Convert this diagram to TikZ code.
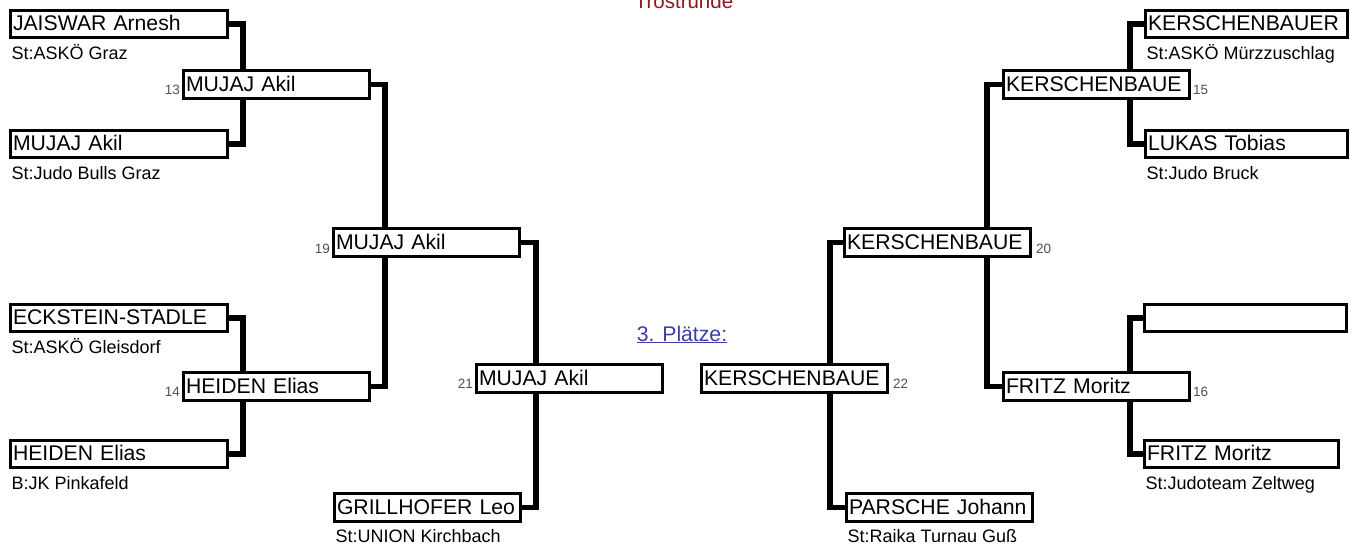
\documentclass[tikz,border=0pt]{standalone}
\usepackage{fontspec}
\setmainfont{Liberation Sans}
\usetikzlibrary{calc}
\definecolor{trostred}{HTML}{8B1A1A}
\definecolor{linkblue}{HTML}{3C3CAA}
\definecolor{numgray}{HTML}{505050}

\begin{document}
\begin{tikzpicture}[x=1pt, y=-1pt,
  namebox/.style={draw, line width=3pt, fill=white, anchor=north west, inner xsep=2.5pt, inner ysep=0pt,
    align=left, text height=15.5pt, text depth=2pt, font=\fontsize{21.2}{24}\selectfont},
  outerbox/.style={namebox, text width=212pt, minimum height=27pt},
  matchbox/.style={namebox, text width=181pt, minimum height=28pt},
  club/.style={anchor=base west, inner sep=0pt, font=\fontsize{18}{20}\selectfont},
  nr/.style={inner sep=0pt, text=numgray, font=\fontsize{13.5}{16}\selectfont},
  conn/.style={line width=5.5pt, black}
]
  \useasboundingbox (0,0) rectangle (1357,544);

  % title and link
  \node[anchor=base, inner sep=0pt, text=trostred, font=\fontsize{20.5}{24}\selectfont] (title) at (684,8) {Trostrunde};
  \node[anchor=base, inner sep=0pt, text=linkblue, font=\fontsize{21.2}{24}\selectfont] (plaetze) at (682,341) {\underline{3. Plätze:}};

  % columns of the connectors
  \coordinate (colA) at (243,0);
  \coordinate (colB) at (385,0);
  \coordinate (colC) at (536,0);
  \coordinate (colD) at (830,0);
  \coordinate (colE) at (987,0);
  \coordinate (colF) at (1130,0);

  % left half
  \node[outerbox] (jaiswar) at (9,9) {JAISWAR Arnesh};
  \node[outerbox] (mujaj) at (9,129) {MUJAJ Akil};
  \node[outerbox] (eckstein) at (9,303) {ECKSTEIN-STADLE};
  \node[outerbox] (heiden) at (9,439) {HEIDEN Elias};
  \node[matchbox] (m13) at (182,69) {MUJAJ Akil};
  \node[matchbox] (m14) at (182,371) {HEIDEN Elias};
  \node[matchbox] (m19) at (332,227) {MUJAJ Akil};
  \node[matchbox] (m21) at (475,363) {MUJAJ Akil};
  \node[matchbox] (grillhofer) at (333,492) {GRILLHOFER Leo};

  % right half
  \node[matchbox] (m22) at (700,363) {KERSCHENBAUE};
  \node[matchbox] (parsche) at (845,492) {PARSCHE Johann};
  \node[matchbox] (m20) at (843,227) {KERSCHENBAUE};
  \node[matchbox] (m15) at (1002,69) {KERSCHENBAUE};
  \node[matchbox] (m16) at (1002,371) {FRITZ Moritz};
  \node[outerbox, text width=197pt] (kerschenbauer) at (1144,9) {KERSCHENBAUER};
  \node[outerbox, text width=197pt] (lukas) at (1144,129) {LUKAS Tobias};
  \node[outerbox, text width=197pt] (leer) at (1143,303) {};
  \node[outerbox, text width=189pt] (fritz) at (1143,439) {FRITZ Moritz};

  % clubs
  \node[club] (cjaiswar) at (11.5,59) {St:ASKÖ Graz};
  \node[club] (cmujaj) at (11.5,179) {St:Judo Bulls Graz};
  \node[club] (ceckstein) at (11.5,353) {St:ASKÖ Gleisdorf};
  \node[club] (cheiden) at (11.5,489) {B:JK Pinkafeld};
  \node[club] (cgrillhofer) at (335.5,542) {St:UNION Kirchbach};
  \node[club] (cparsche) at (847.5,542) {St:Raika Turnau Guß};
  \node[club] (ckerschenbauer) at (1146.5,59) {St:ASKÖ Mürzzuschlag};
  \node[club] (clukas) at (1146.5,179) {St:Judo Bruck};
  \node[club] (cfritz) at (1145.5,489) {St:Judoteam Zeltweg};

  % fight numbers
  \node[nr, anchor=base east] (n13) at (180,94) {13};
  \node[nr, anchor=base east] (n14) at (180,396) {14};
  \node[nr, anchor=base east] (n19) at (330,253) {19};
  \node[nr, anchor=base east] (n21) at (473,388) {21};
  \node[nr, anchor=base west] (n22) at (893,388) {22};
  \node[nr, anchor=base west] (n20) at (1036,253) {20};
  \node[nr, anchor=base west] (n15) at (1193,94) {15};
  \node[nr, anchor=base west] (n16) at (1193,396) {16};

  % connectors
  \draw[conn] (jaiswar.east) -| (colA |- m13.north);
  \draw[conn] (m13.south -| colA) |- (mujaj.east);
  \draw[conn] (eckstein.east) -| (colA |- m14.north);
  \draw[conn] (m14.south -| colA) |- (heiden.east);
  \draw[conn] (m13.east) -| (colB |- m19.north);
  \draw[conn] (m19.south -| colB) |- (m14.east);
  \draw[conn] (m19.east) -| (colC |- m21.north);
  \draw[conn] (m21.south -| colC) |- (grillhofer.east);

  \draw[conn] (m20.west) -| (colD |- m22.north);
  \draw[conn] (m22.south -| colD) |- (parsche.west);
  \draw[conn] (m15.west) -| (colE |- m20.north);
  \draw[conn] (m20.south -| colE) |- (m16.west);
  \draw[conn] (kerschenbauer.west) -| (colF |- m15.north);
  \draw[conn] (m15.south -| colF) |- (lukas.west);
  \draw[conn] (leer.west) -| (colF |- m16.north);
  \draw[conn] (m16.south -| colF) |- (fritz.west);
\end{tikzpicture}
\end{document}
